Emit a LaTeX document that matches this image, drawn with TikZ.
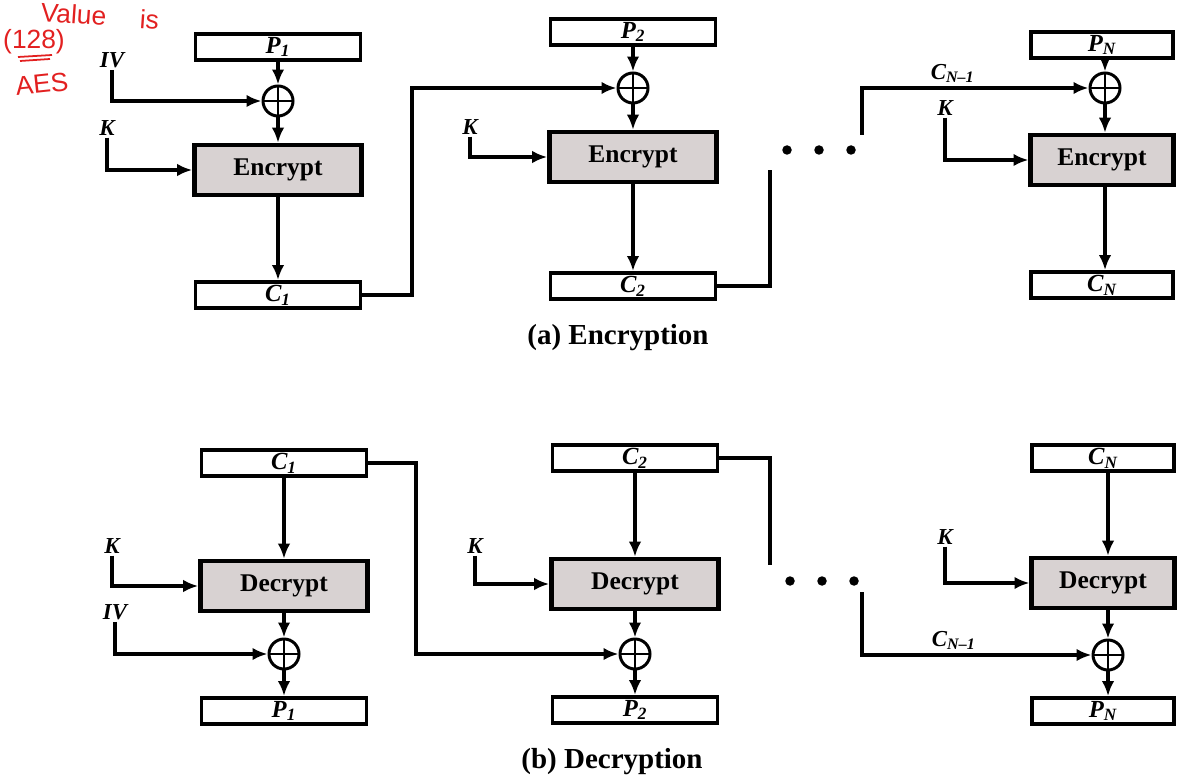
\documentclass[tikz,border=0pt]{standalone}
\usepackage{fontspec}
\setmainfont{Liberation Serif}
\newfontfamily\handfont{Liberation Sans}
\usetikzlibrary{arrows.meta}
\definecolor{boxgray}{RGB}{216,210,210}
\definecolor{inkred}{RGB}{226,32,32}
\tikzset{
block/.style={draw, line width=2.2pt, minimum width=3.3cm, minimum height=0.52cm,
    inner sep=0pt, font=\fontsize{14}{16}\selectfont\bfseries\itshape},
narrow/.style={minimum width=2.85cm},
cipher/.style={draw, line width=2.6pt, fill=boxgray, minimum width=3.34cm,
    minimum height=1cm, font=\fontsize{14.5}{17}\selectfont\bfseries},
xor/.style={circle, draw, line width=1.7pt, minimum size=0.6cm, inner sep=0pt,
    path picture={\draw[line width=1.5pt]
      (path picture bounding box.north) -- (path picture bounding box.south)
      (path picture bounding box.west) -- (path picture bounding box.east);}},
lab/.style={font=\fontsize{13}{15}\selectfont\bfseries\itshape, inner sep=1pt},
flow/.style={line width=2pt, -{Latex[length=3mm,width=2.5mm]}},
wire/.style={line width=2pt},
dot/.style={circle, fill, inner sep=0pt, minimum size=0.19cm},
caption/.style={font=\fontsize{16.5}{19}\selectfont\bfseries},
scrawl/.style={text=inkred, font=\handfont\fontsize{15}{17}\selectfont}
}
\newcommand{\blab}[2]{#1\textsubscript{#2}}

\begin{document}
\begin{tikzpicture}[x=0.02cm, y=-0.02cm]
\useasboundingbox (0,0) rectangle (1185,776);

% (a) encryption
\node[block] (p1) at (278,47) {\blab{P}{1}};
\node[xor] (x1) at (278,101) {};
\node[cipher] (e1) at (278,170) {Encrypt};
\node[block] (c1) at (278,295) {\blab{C}{1}};
\node[lab] (iv1) at (112,60) {IV};
\node[lab] (k1) at (107,128) {K};
\draw[flow] (p1) -- (x1);
\draw[flow] (x1) -- (e1);
\draw[flow] (e1) -- (c1);
\draw[flow] (iv1.south) |- (x1.west);
\draw[flow] (k1.south) |- (e1.west);

\node[block] (p2) at (633,32) {\blab{P}{2}};
\node[xor] (x2) at (633,88) {};
\node[cipher] (e2) at (633,157) {Encrypt};
\node[block] (c2) at (633,286) {\blab{C}{2}};
\node[lab] (k2) at (470,127) {K};
\draw[flow] (p2) -- (x2);
\draw[flow] (x2) -- (e2);
\draw[flow] (e2) -- (c2);
\draw[flow] (k2.south) |- (e2.west);
\coordinate (j1) at (412,0);
\draw[flow] (c1.east) -- (c1.east -| j1) |- (x2.west);
\coordinate (j2) at (770,170);
\draw[wire] (c2.east) -| (j2);
\foreach \i in {0,1,2}
  \node[dot] (da\i) at (787+32*\i,150) {};

\node[block, narrow] (pn) at (1102,45) {\blab{P}{N}};
\node[xor] (xn) at (1105,88) {};
\node[cipher, narrow] (en) at (1102,160) {Encrypt};
\node[block, narrow] (cn) at (1102,285) {\blab{C}{N}};
\node[lab] (kn) at (945,108) {K};
\draw[flow] (pn.south -| xn) -- (xn);
\draw[flow] (xn) -- (en.north -| xn);
\draw[flow] (en.south -| xn) -- (cn.north -| xn);
\draw[flow] (kn.south) |- (en.west);
\coordinate (jn) at (862,135);
\draw[flow] (jn) |- (xn.west) node[lab, pos=0.7, above=1pt] {\blab{C}{N--1}};

\node[caption] (capa) at (618,338) {(a) Encryption};

% (b) decryption
\node[block] (dc1) at (284,463) {\blab{C}{1}};
\node[cipher] (d1) at (284,586) {Decrypt};
\node[xor] (y1) at (284,654) {};
\node[block] (dp1) at (284,711) {\blab{P}{1}};
\node[lab] (dk1) at (112,546) {K};
\node[lab] (div1) at (115,612) {IV};
\draw[flow] (dc1) -- (d1);
\draw[flow] (d1) -- (y1);
\draw[flow] (y1) -- (dp1);
\draw[flow] (dk1.south) |- (d1.west);
\draw[flow] (div1.south) |- (y1.west);

\node[block] (dc2) at (635,458) {\blab{C}{2}};
\node[cipher] (d2) at (635,584) {Decrypt};
\node[xor] (y2) at (635,654) {};
\node[block] (dp2) at (635,710) {\blab{P}{2}};
\node[lab] (dk2) at (475,546) {K};
\draw[flow] (dc2) -- (d2);
\draw[flow] (d2) -- (y2);
\draw[flow] (y2) -- (dp2);
\draw[flow] (dk2.south) |- (d2.west);
\coordinate (jd1) at (416,0);
\draw[flow] (dc1.east) -- (dc1.east -| jd1) |- (y2.west);
\coordinate (jd2) at (770,565);
\draw[wire] (dc2.east) -| (jd2);
\foreach \i in {0,1,2}
  \node[dot] (db\i) at (790+32*\i,581) {};

\node[block, narrow] (dcn) at (1103,458) {\blab{C}{N}};
\node[cipher, narrow] (dn) at (1103,583) {Decrypt};
\node[xor] (yn) at (1108,655) {};
\node[block, narrow] (dpn) at (1103,711) {\blab{P}{N}};
\node[lab] (dkn) at (945,537) {K};
\draw[flow] (dcn.south -| yn) -- (dn.north -| yn);
\draw[flow] (dn.south -| yn) -- (yn);
\draw[flow] (yn) -- (dpn.north -| yn);
\draw[flow] (dkn.south) |- (dn.west);
\coordinate (jdn) at (862,592);
\draw[flow] (jdn) |- (yn.west) node[lab, pos=0.7, above=1pt] {\blab{C}{N--1}};

\node[caption] (capb) at (612,762) {(b) Decryption};

% pen notes in the margin
\node[scrawl, rotate=-4] (n1) at (100,16) {Value \quad is};
\node[scrawl] (n2) at (34,42) {(128)};
\draw[inkred, line width=1pt] (18,57) -- (52,55) (20,61) -- (50,59);
\node[scrawl, rotate=6] (n3) at (42,84) {AES};
\end{tikzpicture}
\end{document}
